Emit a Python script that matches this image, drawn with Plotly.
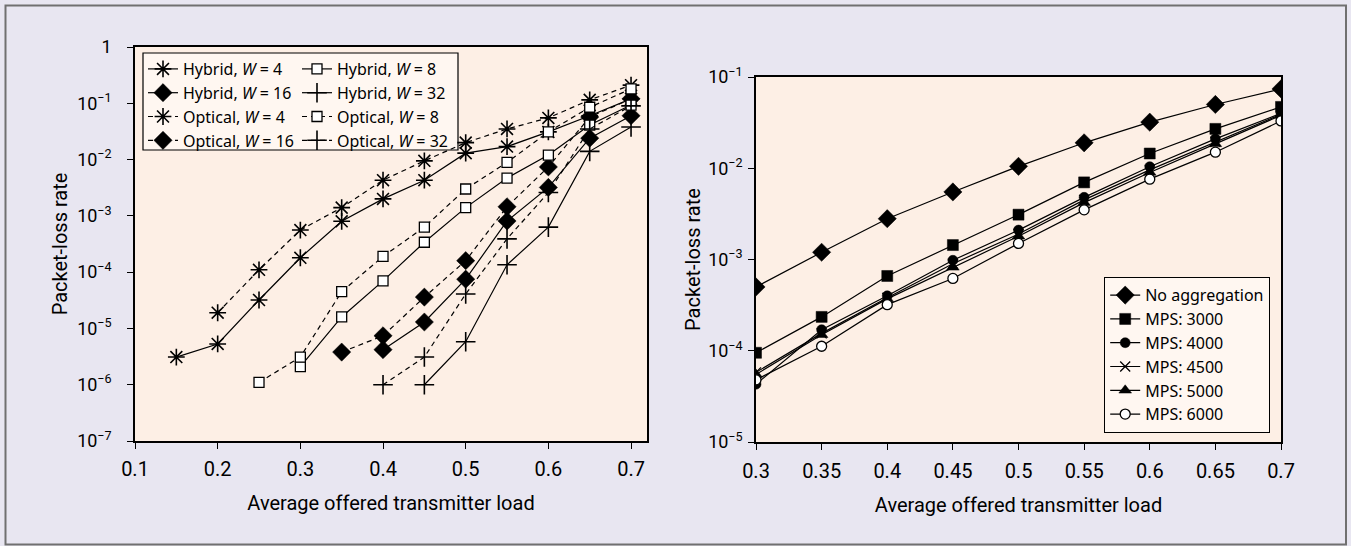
import plotly.graph_objects as go

W, H = 1351, 546

# ---------------- data: left panel ----------------
hyb_w4_x = [0.15, 0.2, 0.25, 0.3, 0.35, 0.4, 0.45, 0.5, 0.55, 0.6, 0.65, 0.7]
hyb_w4_y = [3.1e-6, 5.3e-6, 3.2e-5, 1.8e-4, 8e-4, 2.0e-3, 4.3e-3, 1.3e-2, 1.7e-2, 3.1e-2, 6.0e-2, 1.2e-1]
opt_w4_x = [0.2, 0.25, 0.3, 0.35, 0.4, 0.45, 0.5, 0.55, 0.6, 0.65, 0.7]
opt_w4_y = [1.9e-5, 1.1e-4, 5.6e-4, 1.4e-3, 4.3e-3, 9.5e-3, 2.0e-2, 3.5e-2, 5.5e-2, 1.15e-1, 2.1e-1]
hyb_w8_x = [0.3, 0.35, 0.4, 0.45, 0.5, 0.55, 0.6, 0.65, 0.7]
hyb_w8_y = [2.1e-6, 1.6e-5, 7e-5, 3.4e-4, 1.4e-3, 4.7e-3, 1.2e-2, 4.1e-2, 9.3e-2]
opt_w8_x = [0.25, 0.3, 0.35, 0.4, 0.45, 0.5, 0.55, 0.6, 0.65, 0.7]
opt_w8_y = [1.1e-6, 3.1e-6, 4.5e-5, 1.9e-4, 6.3e-4, 3.0e-3, 8.9e-3, 3.1e-2, 8.5e-2, 1.8e-1]
hyb_w16_x = [0.4, 0.45, 0.5, 0.55, 0.6, 0.65, 0.7]
hyb_w16_y = [4.2e-6, 1.3e-5, 7.5e-5, 8.1e-4, 3.2e-3, 2.4e-2, 6.0e-2]
opt_w16_x = [0.35, 0.4, 0.45, 0.5, 0.55, 0.6, 0.65, 0.7]
opt_w16_y = [3.8e-6, 7.4e-6, 3.6e-5, 1.6e-4, 1.45e-3, 7.4e-3, 5.7e-2, 1.2e-1]
hyb_w32_x = [0.45, 0.5, 0.55, 0.6, 0.65, 0.7]
hyb_w32_y = [1.0e-6, 5.8e-6, 1.35e-4, 6.3e-4, 1.4e-2, 3.8e-2]
opt_w32_x = [0.4, 0.45, 0.5, 0.55, 0.6, 0.65, 0.7]
opt_w32_y = [1.0e-6, 3.1e-6, 4.1e-5, 3.9e-4, 2.6e-3, 3.5e-2, 9.0e-2]

left_xticks = [0.1, 0.2, 0.3, 0.4, 0.5, 0.6, 0.7]
left_xtick_text = ["0.1", "0.2", "0.3", "0.4", "0.5", "0.6", "0.7"]
left_yticks = [1e-7, 1e-6, 1e-5, 1e-4, 1e-3, 1e-2, 1e-1, 1]
left_ytick_text = ["10<sup>−7</sup>", "10<sup>−6</sup>", "10<sup>−5</sup>", "10<sup>−4</sup>",
                   "10<sup>−3</sup>", "10<sup>−2</sup>", "10<sup>−1</sup>", "1"]

# ---------------- data: right panel ----------------
load_r = [0.3, 0.35, 0.4, 0.45, 0.5, 0.55, 0.6, 0.65, 0.7]
no_agg = [5.0e-4, 1.2e-3, 2.8e-3, 5.5e-3, 1.05e-2, 1.9e-2, 3.2e-2, 5.0e-2, 7.4e-2]
mps3000 = [9.5e-5, 2.35e-4, 6.6e-4, 1.44e-3, 3.1e-3, 7.0e-3, 1.45e-2, 2.7e-2, 4.7e-2]
mps4000 = [4.3e-5, 1.7e-4, 4.0e-4, 9.8e-4, 2.1e-3, 4.8e-3, 1.04e-2, 2.1e-2, 4.0e-2]
mps4500 = [5.8e-5, 1.55e-4, 3.8e-4, 9.0e-4, 1.9e-3, 4.5e-3, 9.6e-3, 1.95e-2, 3.9e-2]
mps5000 = [5.5e-5, 1.5e-4, 3.7e-4, 8.2e-4, 1.8e-3, 4.2e-3, 9.0e-3, 1.85e-2, 3.8e-2]
mps6000 = [4.8e-5, 1.12e-4, 3.2e-4, 6.2e-4, 1.5e-3, 3.5e-3, 7.6e-3, 1.5e-2, 3.3e-2]

right_xticks = [0.3, 0.35, 0.4, 0.45, 0.5, 0.55, 0.6, 0.65, 0.7]
right_xtick_text = ["0.3", "0.35", "0.4", "0.45", "0.5", "0.55", "0.6", "0.65", "0.7"]
right_yticks = [1e-5, 1e-4, 1e-3, 1e-2, 1e-1]
right_ytick_text = ["10<sup>−5</sup>", "10<sup>−4</sup>", "10<sup>−3</sup>", "10<sup>−2</sup>", "10<sup>−1</sup>"]

FONT = "Roboto, Noto Sans, sans-serif"
LFONT = "Noto Sans, Roboto, sans-serif"
PAPER = "#e8e6f1"
PLOT = "#fdefe5"
LEGBG = "#fff7f1"

def px(x):
    return x / W

def py(y):
    return 1 - y / H

fig = go.Figure()

def add(x, y, name, symbol, size, fill, dash, legend, xa="x", ya="y", lw=1.6):
    fig.add_trace(go.Scatter(
        x=x, y=y, name=name, mode="lines+markers",
        line=dict(color="black", width=1.2, dash=dash),
        marker=dict(symbol=symbol, size=size, color=fill,
                    line=dict(color="black", width=lw)),
        legend=legend, xaxis=xa, yaxis=ya))

DASH = "5px,4px"
# column 1 of left legend
add(hyb_w4_x, hyb_w4_y, "Hybrid, <i>W</i> = 4", "asterisk-open", 14, "black", "solid", "legend")
add(hyb_w16_x, hyb_w16_y, "Hybrid, <i>W</i> = 16", "diamond", 14, "black", "solid", "legend", lw=0.5)
add(opt_w4_x, opt_w4_y, "Optical, <i>W</i> = 4", "asterisk-open", 14, "black", DASH, "legend")
add(opt_w16_x, opt_w16_y, "Optical, <i>W</i> = 16", "diamond", 14, "black", DASH, "legend", lw=0.5)
# column 2 of left legend
add(hyb_w8_x, hyb_w8_y, "Hybrid, <i>W</i> = 8", "square", 10, "white", "solid", "legend2", lw=1.3)
add(hyb_w32_x, hyb_w32_y, "Hybrid, <i>W</i> = 32", "cross-thin-open", 14, "black", "solid", "legend2")
add(opt_w8_x, opt_w8_y, "Optical, <i>W</i> = 8", "square", 10, "white", DASH, "legend2", lw=1.3)
add(opt_w32_x, opt_w32_y, "Optical, <i>W</i> = 32", "cross-thin-open", 14, "black", DASH, "legend2")

# right panel
add(load_r, no_agg, "No aggregation", "diamond", 14, "black", "solid", "legend3", "x2", "y2", lw=0.5)
add(load_r, mps3000, "MPS: 3000", "square", 11, "black", "solid", "legend3", "x2", "y2", lw=0.5)
add(load_r, mps4000, "MPS: 4000", "circle", 10, "black", "solid", "legend3", "x2", "y2", lw=0.5)
add(load_r, mps4500, "MPS: 4500", "x-thin-open", 10, "black", "solid", "legend3", "x2", "y2", lw=1.3)
add(load_r, mps5000, "MPS: 5000", "triangle-up", 11, "black", "solid", "legend3", "x2", "y2", lw=0.5)
add(load_r, mps6000, "MPS: 6000", "circle", 10, "white", "solid", "legend3", "x2", "y2", lw=1.3)

axis_common = dict(showline=True, linecolor="black", linewidth=1.5, mirror=True,
                   ticks="outside", ticklen=6, tickwidth=1.3, tickcolor="black",
                   showgrid=False, zeroline=False, automargin=False)

XTICK = dict(family=FONT, size=20, color="black")
YTICK = dict(family=FONT, size=18, color="black")
TITLE = dict(family=FONT, size=20, color="black")
LEGFONT = dict(family=LFONT, size=16, color="black")

fig.update_layout(
    width=W, height=H,
    margin=dict(l=0, r=0, t=0, b=0, autoexpand=False),
    paper_bgcolor=PAPER, plot_bgcolor=PLOT,
    font=dict(family=FONT, size=16, color="black"),
    xaxis=dict(domain=[px(135), px(647)], range=[0.1, 0.7193], anchor="y",
               tickvals=left_xticks, ticktext=left_xtick_text, ticklabelstandoff=3, tickfont=XTICK,
               title=dict(text="Average offered transmitter load", standoff=16, font=TITLE), **axis_common),
    yaxis=dict(domain=[py(441), py(47)], type="log", range=[-7, 0], anchor="x",
               tickvals=left_yticks, ticktext=left_ytick_text, ticklabelstandoff=12, tickfont=YTICK,
               title=dict(text="Packet-loss rate", standoff=4, font=TITLE), **axis_common),
    xaxis2=dict(domain=[px(756), px(1281)], range=[0.3, 0.7], anchor="y2",
                tickvals=right_xticks, ticktext=right_xtick_text, ticklabelstandoff=4, tickfont=XTICK,
                title=dict(text="Average offered transmitter load", standoff=16, font=TITLE), **axis_common),
    yaxis2=dict(domain=[py(442), py(77)], type="log", range=[-5, -1], anchor="x2",
                tickvals=right_yticks, ticktext=right_ytick_text, ticklabelstandoff=2, tickfont=YTICK,
                title=dict(text="Packet-loss rate", standoff=2, font=TITLE), **axis_common),
    legend=dict(x=px(143), y=py(52), xanchor="left", yanchor="top",
                bgcolor="rgba(0,0,0,0)", borderwidth=0, traceorder="normal",
                font=LEGFONT, itemwidth=30, tracegroupgap=0),
    legend2=dict(x=px(297), y=py(52), xanchor="left", yanchor="top",
                 bgcolor="rgba(0,0,0,0)", borderwidth=0, traceorder="normal",
                 font=LEGFONT, itemwidth=30, tracegroupgap=0),
    legend3=dict(x=px(1270), y=py(433), xanchor="right", yanchor="bottom",
                 bgcolor=LEGBG, bordercolor="black", borderwidth=1.2, traceorder="normal",
                 font=LEGFONT, itemwidth=30, tracegroupgap=0),
    shapes=[
        dict(type="rect", xref="paper", yref="paper", x0=px(5.5), x1=px(1346), y0=py(544.5), y1=py(5.5),
             line=dict(color="#707070", width=2), fillcolor="rgba(0,0,0,0)", layer="above"),
        dict(type="rect", xref="x domain", yref="y domain",
             x0=(143 - 135) / 512, x1=(458 - 135) / 512,
             y0=(441 - 150) / 394, y1=(441 - 53) / 394,
             line=dict(color="black", width=1.2), fillcolor=LEGBG, layer="below"),
    ],
)

fig.write_html("out.html", config={"displayModeBar": False},
               post_script="document.body.style.margin='0px';")
